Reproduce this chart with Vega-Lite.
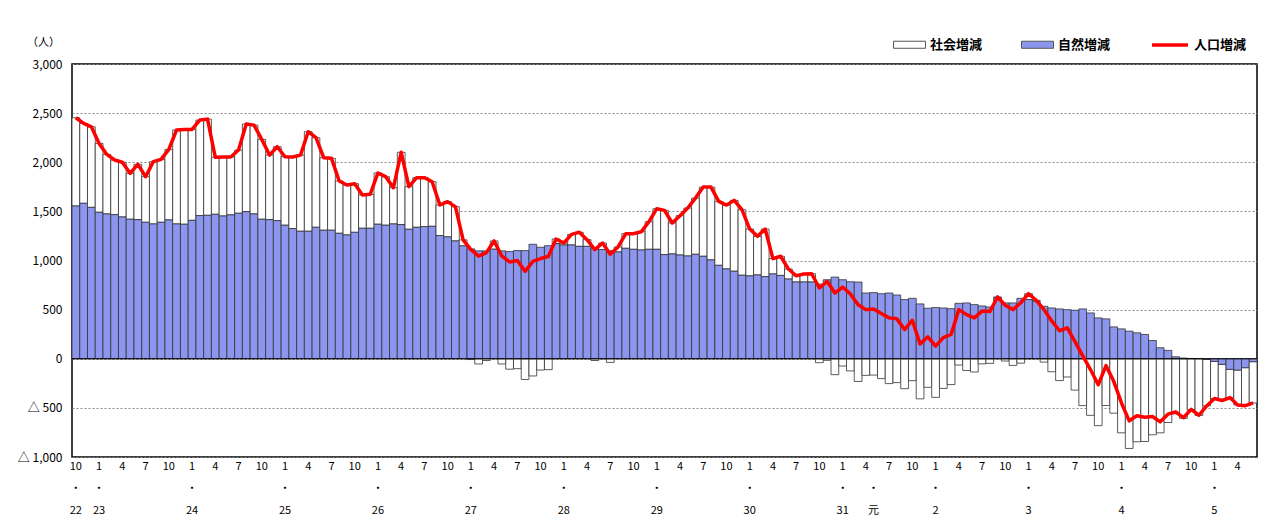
{
"$schema": "https://vega.github.io/schema/vega-lite/v6.json",
"width": 1185, "height": 393,
"autosize": {"type": "none"},
"padding": {"left": 72, "top": 64, "right": 14, "bottom": 60},
"background": "white",
"config": {"view": {"stroke": "#000", "strokeWidth": 1.5}, "font": "Noto Sans CJK JP"},
"data": {"values": [
{"t":0,"natural":1555,"social":898,"total":2453},
{"t":1,"natural":1582,"social":813,"total":2395},
{"t":2,"natural":1541,"social":820,"total":2361},
{"t":3,"natural":1491,"social":701,"total":2192},
{"t":4,"natural":1474,"social":606,"total":2080},
{"t":5,"natural":1467,"social":556,"total":2023},
{"t":6,"natural":1443,"social":557,"total":2000},
{"t":7,"natural":1420,"social":467,"total":1887},
{"t":8,"natural":1416,"social":563,"total":1979},
{"t":9,"natural":1389,"social":464,"total":1853},
{"t":10,"natural":1372,"social":634,"total":2006},
{"t":11,"natural":1389,"social":640,"total":2029},
{"t":12,"natural":1413,"social":718,"total":2131},
{"t":13,"natural":1372,"social":956,"total":2328},
{"t":14,"natural":1369,"social":965,"total":2334},
{"t":15,"natural":1409,"social":925,"total":2334},
{"t":16,"natural":1457,"social":972,"total":2429},
{"t":17,"natural":1460,"social":979,"total":2439},
{"t":18,"natural":1470,"social":580,"total":2050},
{"t":19,"natural":1453,"social":600,"total":2053},
{"t":20,"natural":1464,"social":589,"total":2053},
{"t":21,"natural":1481,"social":643,"total":2124},
{"t":22,"natural":1497,"social":892,"total":2389},
{"t":23,"natural":1474,"social":904,"total":2378},
{"t":24,"natural":1420,"social":813,"total":2233},
{"t":25,"natural":1416,"social":657,"total":2073},
{"t":26,"natural":1406,"social":752,"total":2158},
{"t":27,"natural":1359,"social":697,"total":2056},
{"t":28,"natural":1325,"social":728,"total":2053},
{"t":29,"natural":1298,"social":775,"total":2073},
{"t":30,"natural":1298,"social":1013,"total":2311},
{"t":31,"natural":1338,"social":912,"total":2250},
{"t":32,"natural":1308,"social":738,"total":2046},
{"t":33,"natural":1308,"social":732,"total":2040},
{"t":34,"natural":1277,"social":532,"total":1809},
{"t":35,"natural":1260,"social":509,"total":1769},
{"t":36,"natural":1287,"social":495,"total":1782},
{"t":37,"natural":1328,"social":339,"total":1667},
{"t":38,"natural":1328,"social":346,"total":1674},
{"t":39,"natural":1369,"social":522,"total":1891},
{"t":40,"natural":1359,"social":494,"total":1853},
{"t":41,"natural":1372,"social":369,"total":1741},
{"t":42,"natural":1365,"social":736,"total":2101},
{"t":43,"natural":1318,"social":434,"total":1752},
{"t":44,"natural":1338,"social":505,"total":1843},
{"t":45,"natural":1345,"social":498,"total":1843},
{"t":46,"natural":1348,"social":454,"total":1802},
{"t":47,"natural":1254,"social":311,"total":1565},
{"t":48,"natural":1240,"social":359,"total":1599},
{"t":49,"natural":1199,"social":349,"total":1548},
{"t":50,"natural":1149,"social":61,"total":1210},
{"t":51,"natural":1118,"social":-8,"total":1110},
{"t":52,"natural":1098,"social":-53,"total":1045},
{"t":53,"natural":1098,"social":-18,"total":1080},
{"t":54,"natural":1115,"social":84,"total":1199},
{"t":55,"natural":1098,"social":-53,"total":1045},
{"t":56,"natural":1091,"social":-106,"total":985},
{"t":57,"natural":1101,"social":-101,"total":1000},
{"t":58,"natural":1101,"social":-211,"total":890},
{"t":59,"natural":1165,"social":-175,"total":990},
{"t":60,"natural":1135,"social":-115,"total":1020},
{"t":61,"natural":1151,"social":-111,"total":1040},
{"t":62,"natural":1172,"social":47,"total":1219},
{"t":63,"natural":1158,"social":20,"total":1178},
{"t":64,"natural":1158,"social":108,"total":1266},
{"t":65,"natural":1144,"social":143,"total":1287},
{"t":66,"natural":1144,"social":68,"total":1212},
{"t":67,"natural":1128,"social":-18,"total":1110},
{"t":68,"natural":1111,"social":67,"total":1178},
{"t":69,"natural":1100,"social":-37,"total":1063},
{"t":70,"natural":1087,"social":51,"total":1138},
{"t":71,"natural":1124,"social":149,"total":1273},
{"t":72,"natural":1114,"social":159,"total":1273},
{"t":73,"natural":1107,"social":186,"total":1293},
{"t":74,"natural":1114,"social":281,"total":1395},
{"t":75,"natural":1114,"social":413,"total":1527},
{"t":76,"natural":1060,"social":450,"total":1510},
{"t":77,"natural":1067,"social":315,"total":1382},
{"t":78,"natural":1056,"social":400,"total":1456},
{"t":79,"natural":1046,"social":488,"total":1534},
{"t":80,"natural":1063,"social":572,"total":1635},
{"t":81,"natural":1043,"social":704,"total":1747},
{"t":82,"natural":1006,"social":741,"total":1747},
{"t":83,"natural":951,"social":651,"total":1602},
{"t":84,"natural":914,"social":650,"total":1564},
{"t":85,"natural":891,"social":721,"total":1612},
{"t":86,"natural":850,"social":667,"total":1517},
{"t":87,"natural":843,"social":477,"total":1320},
{"t":88,"natural":853,"social":393,"total":1246},
{"t":89,"natural":836,"social":484,"total":1320},
{"t":90,"natural":863,"social":156,"total":1019},
{"t":91,"natural":848,"social":195,"total":1043},
{"t":92,"natural":811,"social":102,"total":913},
{"t":93,"natural":781,"social":64,"total":845},
{"t":94,"natural":781,"social":81,"total":862},
{"t":95,"natural":781,"social":84,"total":865},
{"t":96,"natural":760,"social":-40,"total":720},
{"t":97,"natural":804,"social":-16,"total":788},
{"t":98,"natural":831,"social":-162,"total":669},
{"t":99,"natural":804,"social":-74,"total":730},
{"t":100,"natural":784,"social":-124,"total":660},
{"t":101,"natural":781,"social":-231,"total":550},
{"t":102,"natural":669,"social":-169,"total":500},
{"t":103,"natural":673,"social":-166,"total":507},
{"t":104,"natural":662,"social":-202,"total":460},
{"t":105,"natural":669,"social":-253,"total":416},
{"t":106,"natural":649,"social":-243,"total":406},
{"t":107,"natural":602,"social":-305,"total":297},
{"t":108,"natural":615,"social":-223,"total":392},
{"t":109,"natural":558,"social":-408,"total":150},
{"t":110,"natural":514,"social":-291,"total":223},
{"t":111,"natural":521,"social":-393,"total":128},
{"t":112,"natural":517,"social":-302,"total":215},
{"t":113,"natural":510,"social":-263,"total":247},
{"t":114,"natural":564,"social":-64,"total":500},
{"t":115,"natural":568,"social":-119,"total":449},
{"t":116,"natural":551,"social":-135,"total":416},
{"t":117,"natural":537,"social":-52,"total":485},
{"t":118,"natural":527,"social":-47,"total":480},
{"t":119,"natural":620,"social":9,"total":629},
{"t":120,"natural":568,"social":-23,"total":545},
{"t":121,"natural":568,"social":-68,"total":500},
{"t":122,"natural":615,"social":-45,"total":570},
{"t":123,"natural":602,"social":60,"total":662},
{"t":124,"natural":585,"social":10,"total":595},
{"t":125,"natural":534,"social":-34,"total":500},
{"t":126,"natural":517,"social":-132,"total":385},
{"t":127,"natural":507,"social":-222,"total":285},
{"t":128,"natural":500,"social":-186,"total":314},
{"t":129,"natural":494,"social":-319,"total":175},
{"t":130,"natural":507,"social":-477,"total":30},
{"t":131,"natural":466,"social":-576,"total":-110},
{"t":132,"natural":416,"social":-681,"total":-265},
{"t":133,"natural":406,"social":-476,"total":-70},
{"t":134,"natural":324,"social":-554,"total":-230},
{"t":135,"natural":304,"social":-754,"total":-450},
{"t":136,"natural":281,"social":-913,"total":-632},
{"t":137,"natural":264,"social":-845,"total":-581},
{"t":138,"natural":247,"social":-842,"total":-595},
{"t":139,"natural":186,"social":-774,"total":-588},
{"t":140,"natural":112,"social":-754,"total":-642},
{"t":141,"natural":85,"social":-649,"total":-564},
{"t":142,"natural":20,"social":-560,"total":-540},
{"t":143,"natural":7,"social":-607,"total":-600},
{"t":144,"natural":3,"social":-518,"total":-515},
{"t":145,"natural":2,"social":-577,"total":-575},
{"t":146,"natural":-7,"social":-473,"total":-480},
{"t":147,"natural":-27,"social":-378,"total":-405},
{"t":148,"natural":-57,"social":-368,"total":-425},
{"t":149,"natural":-108,"social":-287,"total":-395},
{"t":150,"natural":-115,"social":-355,"total":-470},
{"t":151,"natural":-91,"social":-387,"total":-478},
{"t":152,"natural":-30,"social":-420,"total":-450}
]},
"layer": [
{
"transform": [{"fold": ["social", "natural"], "as": ["series", "value"]}],
"mark": {"type": "bar", "stroke": "#333", "strokeWidth": 0.8},
"encoding": {
"x": {"field": "t", "type": "ordinal", "scale": {"paddingInner": 0, "paddingOuter": 0},
"axis": {"values": [0,3,6,9,12,15,18,21,24,27,30,33,36,39,42,45,48,51,54,57,60,63,66,69,72,75,78,81,84,87,90,93,96,99,102,103,105,108,111,114,117,120,123,126,129,132,135,138,141,144,147,150],
"labelExpr": "datum.value == 103 ? ['', '・', '元'] : (datum.value == 0 ? ['10', '・', '22'] : ((datum.value + 9) % 12 == 0 ? ['1', '・', '' + ((2010 + (datum.value + 9) / 12) - ((2010 + (datum.value + 9) / 12) >= 2020 ? 2018 : 1988))] : ['' + ((datum.value + 9) % 12 + 1)]))",
"labelAngle": 0, "ticks": false, "domain": false, "grid": false, "title": null, "labelPadding": 3, "labelFontSize": 11, "labelLineHeight": 22, "labelBaseline": "top", "labelOverlap": false, "labelColor": "#000"}},
"y": {"field": "value", "type": "quantitative", "stack": "zero", "scale": {"domain": [-1000, 3000], "nice": false, "zero": false},
"axis": {"values": [-1000,-500,0,500,1000,1500,2000,2500,3000],
"labelExpr": "datum.value < 0 ? '△ ' + format(-datum.value, ',') : format(datum.value, ',')",
"grid": true, "gridColor": "#888", "gridDash": [2, 2], "gridWidth": 1, "ticks": false, "domain": false, "labelPadding": 10, "labelFontSize": 12, "labelColor": "#000",
"title": "（人）", "titleAngle": 0, "titleX": -29, "titleY": -22, "titleFontSize": 11, "titleFontWeight": "normal", "titleAlign": "center", "titleBaseline": "middle", "titleColor": "#000"}},
"fill": {"field": "series", "type": "nominal", "scale": {"domain": ["social", "natural"], "range": ["#ffffff", "#8c96ee"]},
"legend": {"orient": "none", "legendX": 821, "legendY": -36, "direction": "horizontal", "columns": 2, "title": null, "padding": 0,
"symbolType": "M-1,-0.22H1V0.22H-1Z", "symbolSize": 1024, "symbolStrokeColor": "#555", "symbolStrokeWidth": 1, "symbolOpacity": 1,
"labelFontSize": 13, "labelFontWeight": "bold", "labelColor": "#000", "labelOffset": 4, "columnPadding": 36,
"labelExpr": "datum.label == 'social' ? '社会増減' : '自然増減'"}},
"order": {"field": "series", "sort": "ascending"}
}
},
{
"data": {"values": [{"base": 0}]},
"mark": {"type": "rule", "color": "#000", "strokeWidth": 1},
"encoding": {"y": {"field": "base", "type": "quantitative", "title": "（人）"}}
},
{
"mark": {"type": "line", "strokeWidth": 3.5, "strokeJoin": "round"},
"encoding": {
"x": {"field": "t", "type": "ordinal", "title": null},
"y": {"field": "total", "type": "quantitative", "title": "（人）"},
"stroke": {"datum": "人口増減", "type": "nominal", "scale": {"range": ["#ff0000"]},
"legend": {"orient": "none", "legendX": 1078, "legendY": -39, "title": null, "padding": 0,
"symbolType": "stroke", "symbolSize": 1296, "symbolStrokeWidth": 3.5,
"labelFontSize": 13, "labelFontWeight": "bold", "labelColor": "#000", "labelOffset": 4}}
}
}
]
}
